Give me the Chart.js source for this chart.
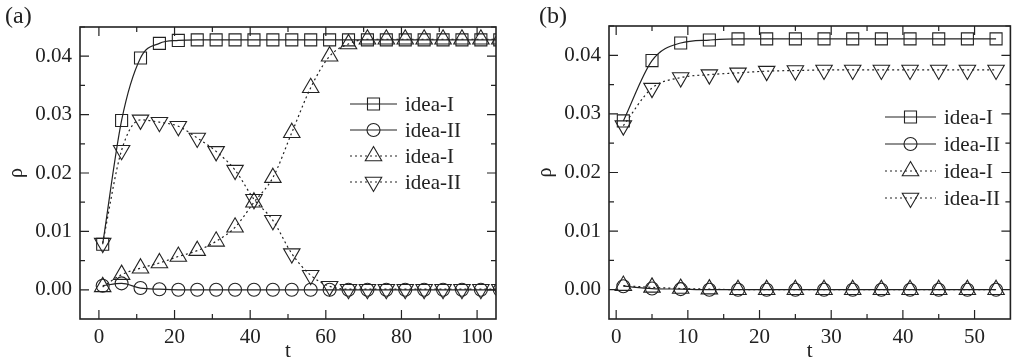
<!DOCTYPE html>
<html>
<head>
<meta charset="utf-8">
<script src="https://cdn.jsdelivr.net/npm/chart.js"></script>
<style>
  html, body { margin: 0; padding: 0; background: #fff; }
  #wrap { position: relative; width: 1021px; height: 362px; overflow: hidden; }
  .pane { position: absolute; top: 0; height: 362px; }
  .tag { position: absolute; font-family: 'Liberation Serif', serif; font-size: 24px; color: #222; }
</style>
</head>
<body>
<div id="wrap">
  <div class="pane" style="left:0;width:510px"><canvas id="chartA"></canvas></div>
  <div class="pane" style="left:510px;width:511px"><canvas id="chartB"></canvas></div>
  <div class="tag" style="left:5px;top:2px">(a)</div>
  <div class="tag" style="left:539px;top:2px">(b)</div>
</div>
<script>
// ---- panel (a) data ----
const tA = [1, 6, 11, 16, 21, 26, 31, 36, 41, 46, 51, 56, 61, 66, 71, 76, 81, 86, 91, 96, 101, 106];
const ideaI_A   = [0.0078, 0.0290, 0.0397, 0.0422, 0.0427, 0.0428, 0.0428, 0.0428, 0.0428, 0.0428, 0.0428,
                   0.0428, 0.0428, 0.0428, 0.0428, 0.0428, 0.0428, 0.0428, 0.0428, 0.0428, 0.0428, 0.0428];
const ideaII_A  = [0.0007, 0.0011, 0.0003, 0.0001, 0, 0, 0, 0, 0, 0, 0, 0, 0, 0, 0, 0, 0, 0, 0, 0, 0, 0];
const ideaIdA   = [0.0005, 0.0026, 0.0037, 0.0046, 0.0057, 0.0067, 0.0083, 0.0107, 0.0150, 0.0192, 0.0269,
                   0.0346, 0.0400, 0.0421, 0.0429, 0.0429, 0.0429, 0.0429, 0.0429, 0.0429, 0.0429, 0.0429];
const ideaIIdA  = [0.0080, 0.0239, 0.0291, 0.0287, 0.0280, 0.0260, 0.0237, 0.0205, 0.0155, 0.0119, 0.0062,
                   0.0025, 0.0006, 0.0001, 0.0001, 0.0001, 0.0001, 0.0001, 0.0001, 0.0001, 0.0001, 0.0001];
const xTicksA = [0, 20, 40, 60, 80, 100];

// ---- panel (b) data ----
const tB = [1, 5, 9, 13, 17, 21, 25, 29, 33, 37, 41, 45, 49, 53];
const ideaI_B   = [0.0288, 0.0391, 0.0421, 0.0426, 0.0428, 0.0428, 0.0428, 0.0428, 0.0428, 0.0428, 0.0428, 0.0428, 0.0428, 0.0428];
const ideaII_B  = [0.0006, 0.0002, 0.0001, 0, 0, 0, 0, 0, 0, 0, 0, 0, 0, 0];
const ideaIdB   = [0.0007, 0.0004, 0.0002, 0.0001, 0, 0, 0, 0, 0, 0, 0, 0, 0, 0];
const ideaIIdB  = [0.0280, 0.0344, 0.0362, 0.0367, 0.0370, 0.0373, 0.0374, 0.0375, 0.0375, 0.0375, 0.0375, 0.0375, 0.0375, 0.0375];
const xTicksB = [0, 10, 20, 30, 40, 50];

const yTicks = [0.00, 0.01, 0.02, 0.03, 0.04];
const labels = ['idea-I', 'idea-II', 'idea-I', 'idea-II'];

const INK = '#222';
const FONT = 'Liberation Serif';

function pts(xs, ys) { return xs.map((x, i) => ({x: x, y: ys[i]})); }

function makeSets(t, a, b, c, d) {
  const base = {
    borderColor: INK, borderWidth: 1.2, backgroundColor: 'rgba(0,0,0,0)',
    pointBorderColor: INK, pointBackgroundColor: 'rgba(0,0,0,0)', pointBorderWidth: 1.1,
    cubicInterpolationMode: 'monotone'
  };
  return [
    Object.assign({}, base, {label: labels[0], data: pts(t, a), pointStyle: 'rect', pointRadius: 8.5}),
    Object.assign({}, base, {label: labels[1], data: pts(t, b), pointStyle: 'circle', pointRadius: 6.5}),
    Object.assign({}, base, {label: labels[2], data: pts(t, c), pointStyle: 'triangle', pointRadius: 9.5,
      borderDash: [2, 3]}),
    Object.assign({}, base, {label: labels[3], data: pts(t, d), pointStyle: 'triangle', pointRadius: 9.5,
      pointRotation: 180, borderDash: [2, 3]})
  ];
}

// draw a hollow marker like the data points
function marker(ctx, style, x, y, r, rot) {
  ctx.beginPath();
  if (style === 'rect') {
    const s = r * Math.SQRT1_2;
    ctx.rect(x - s, y - s, 2 * s, 2 * s);
  } else if (style === 'circle') {
    ctx.arc(x, y, r, 0, Math.PI * 2);
  } else {
    let a = (rot || 0) * Math.PI / 180;
    ctx.moveTo(x + Math.sin(a) * r, y - Math.cos(a) * r);
    a += 2 * Math.PI / 3;
    ctx.lineTo(x + Math.sin(a) * r, y - Math.cos(a) * r);
    a += 2 * Math.PI / 3;
    ctx.lineTo(x + Math.sin(a) * r, y - Math.cos(a) * r);
    ctx.closePath();
  }
  ctx.stroke();
}

// frame, inward ticks on all four sides, and the legend
const framePlugin = {
  id: 'frame',
  afterDraw(chart, args, o) {
    const ctx = chart.ctx, a = chart.chartArea;
    const xs = chart.scales.x, ys = chart.scales.y;
    ctx.save();
    ctx.strokeStyle = INK;
    ctx.lineWidth = 1.2;
    ctx.setLineDash([]);
    ctx.beginPath();
    const tick = (p, len, vert) => {
      if (vert) {
        ctx.moveTo(p, a.bottom); ctx.lineTo(p, a.bottom - len);
        ctx.moveTo(p, a.top); ctx.lineTo(p, a.top + len);
      } else {
        ctx.moveTo(a.left, p); ctx.lineTo(a.left + len, p);
        ctx.moveTo(a.right, p); ctx.lineTo(a.right - len, p);
      }
    };
    o.xMajor.forEach(v => tick(xs.getPixelForValue(v), 9, true));
    o.xMajor.forEach(v => {
      const m = v + o.xStep / 2;
      if (m < xs.max) tick(xs.getPixelForValue(m), 5, true);
    });
    yTicks.forEach(v => tick(ys.getPixelForValue(v), 9, false));
    yTicks.forEach(v => tick(ys.getPixelForValue(v + 0.005), 5, false));
    ctx.stroke();
    ctx.lineWidth = 1.6;
    ctx.strokeRect(a.left, a.top, a.right - a.left, a.bottom - a.top);

    // legend
    ctx.font = '21px "' + FONT + '"';
    ctx.fillStyle = INK;
    ctx.textBaseline = 'middle';
    chart.data.datasets.forEach((ds, i) => {
      const y = o.legY + i * o.legGap;
      ctx.lineWidth = 1.2;
      ctx.setLineDash(ds.borderDash || []);
      ctx.beginPath();
      ctx.moveTo(o.legX, y); ctx.lineTo(o.legX + o.legW, y);
      ctx.stroke();
      ctx.setLineDash([]);
      ctx.lineWidth = 1.1;
      marker(ctx, ds.pointStyle, o.legX + o.legW / 2, y, ds.pointRadius, ds.pointRotation);
      ctx.fillText(ds.label, o.legX + o.legW + 8, y + 1);
    });
    ctx.restore();
  }
};

function makeOptions(xmin, xmax, xTicks, padTop, padRight, yAxisW, titlePad, legend) {
  return {
    responsive: true,
    maintainAspectRatio: false,
    animation: false,
    layout: {padding: {left: 0, top: padTop, right: padRight, bottom: 0}},
    plugins: {
      legend: {display: false},
      tooltip: {enabled: false},
      frame: Object.assign({xMajor: xTicks, xStep: xTicks[1] - xTicks[0]}, legend)
    },
    scales: {
      x: {
        type: 'linear', min: xmin, max: xmax,
        grid: {display: false, drawTicks: false},
        border: {display: false},
        afterBuildTicks: s => { s.ticks = xTicks.map(v => ({value: v})); },
        afterFit: s => { s.height = 43; },
        ticks: {color: INK, font: {family: FONT, size: 21}, padding: 6, maxRotation: 0},
        title: {display: true, text: 't', color: INK, font: {family: FONT, size: 21, lineHeight: 1},
          padding: {top: 0, bottom: 0}}
      },
      y: {
        min: -0.005, max: 0.045,
        grid: {display: false, drawTicks: false},
        border: {display: false},
        afterBuildTicks: s => { s.ticks = yTicks.map(v => ({value: v})); },
        afterFit: s => { s.width = yAxisW; },
        ticks: {color: INK, font: {family: FONT, size: 21}, padding: 8,
          callback: v => v.toFixed(2)},
        title: {display: true, text: 'ρ', color: INK, font: {family: FONT, size: 20, lineHeight: 1},
          padding: {top: titlePad, bottom: 0}}
      }
    }
  };
}

new Chart(document.getElementById('chartA'), {
  type: 'line',
  data: {datasets: makeSets(tA, ideaI_A, ideaII_A, ideaIdA, ideaIIdA)},
  options: makeOptions(-5, 105, xTicksA, 27, 14, 80, 7,
    {legX: 350, legW: 47, legY: 104, legGap: 26}),
  plugins: [framePlugin]
});

new Chart(document.getElementById('chartB'), {
  type: 'line',
  data: {datasets: makeSets(tB, ideaI_B, ideaII_B, ideaIdB, ideaIIdB)},
  options: makeOptions(-1, 55, xTicksB, 26, 3, 99, 26,
    {legX: 375, legW: 51, legY: 117, legGap: 27}),
  plugins: [framePlugin]
});
</script>
</body>
</html>
